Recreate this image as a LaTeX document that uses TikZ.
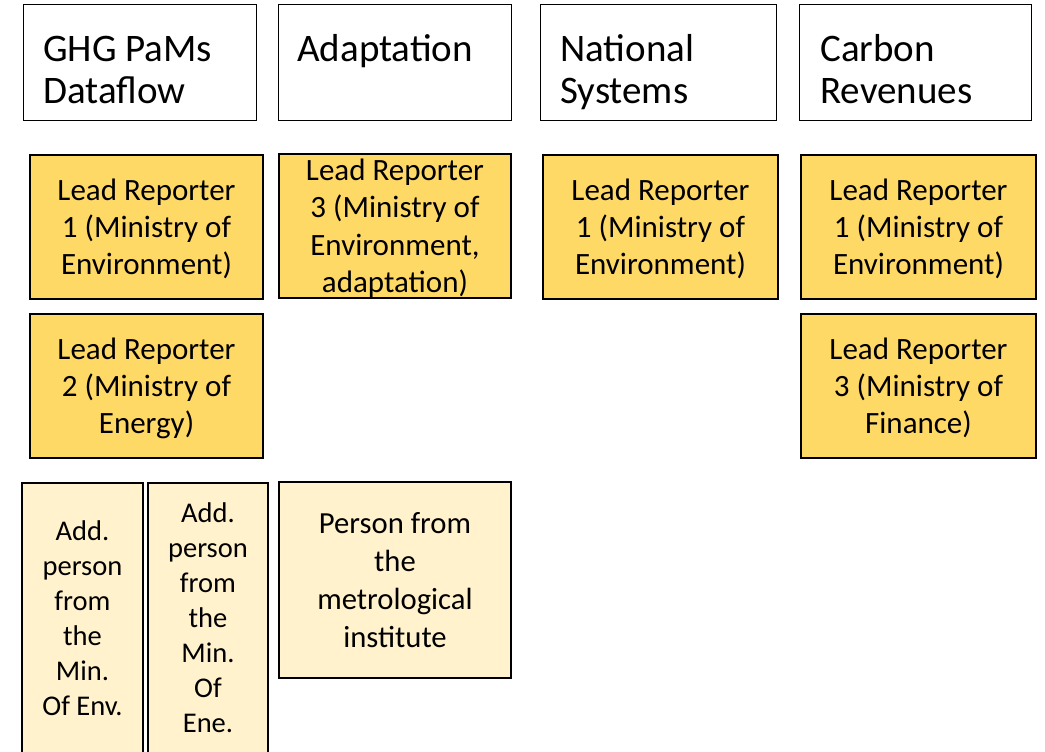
\documentclass[tikz,border=0pt]{standalone}
\usepackage{fontspec}
\setmainfont{Carlito}
\definecolor{lrgold}{HTML}{FFD966}
\definecolor{lightgold}{HTML}{FFF2CC}
\newcommand\ps{\rule[-.22\baselineskip]{0pt}{\baselineskip}}
\tikzset{
  hdrbox/.style={draw=black, line width=0.75pt, fill=white, inner sep=0pt},
  hdrtext/.style={anchor=north west, inner sep=0pt, align=left,
    font=\fontsize{29.25pt}{31.9pt}\selectfont},
  lrtext/.style={inner sep=0pt, align=center, font=\fontsize{23.25pt}{28.1pt}\selectfont},
  lrbox/.style={lrtext, draw=black, line width=1.5pt, fill=lrgold},
  addbox/.style={draw=black, line width=1.5pt, fill=lightgold, inner sep=0pt, align=center,
    font=\fontsize{21.4pt}{26.25pt}\selectfont},
  personbox/.style={addbox, font=\fontsize{23pt}{28.3pt}\selectfont}
}
\begin{document}
\begin{tikzpicture}[x=0.75pt, y=-0.75pt]
\useasboundingbox (0,0) rectangle (1045,752);
\clip (0,0) rectangle (1045,752);
% header boxes
\node[hdrbox, minimum width=233*0.75pt, minimum height=116*0.75pt] (h1) at (140,62.5) {};
\node[hdrbox, minimum width=233*0.75pt, minimum height=116*0.75pt] (h2) at (395,62.5) {};
\node[hdrbox, minimum width=236*0.75pt, minimum height=116*0.75pt] (h3) at (658.5,62.5) {};
\node[hdrbox, minimum width=232*0.75pt, minimum height=116*0.75pt] (h4) at (915.5,62.5) {};
\node[hdrtext] (t1) at (43,28) {\ps GHG PaMs\\Dataflow\ps};
\node[hdrtext] (t2) at (297,28) {\ps Adaptation\ps};
\node[hdrtext] (t3) at (560,28) {\ps National\\Systems\ps};
\node[hdrtext] (t4) at (820,28) {\ps Carbon\\Revenues\ps};
% lead reporters
\node[lrbox, minimum width=233*0.75pt, minimum height=144*0.75pt] (g1) at (146.5,227) {\ps Lead Reporter\\1 (Ministry of\\Environment)\ps};
\node[lrbox, minimum width=233*0.75pt, minimum height=144*0.75pt] (g2) at (146.5,386) {\ps Lead Reporter\\2 (Ministry of\\Energy)\ps};
\node[lrbox, minimum width=232*0.75pt, minimum height=144*0.75pt] (a1) at (395,226) {};
\node[lrtext] (a1t) at (395,226) {\ps Lead Reporter\\3 (Ministry of\\Environment,\\adaptation)\ps};
\node[lrbox, minimum width=235*0.75pt, minimum height=144*0.75pt] (n1) at (660.5,227) {\ps Lead Reporter\\1 (Ministry of\\Environment)\ps};
\node[lrbox, minimum width=235*0.75pt, minimum height=144*0.75pt] (c1) at (918.5,227) {\ps Lead Reporter\\1 (Ministry of\\Environment)\ps};
\node[lrbox, minimum width=235*0.75pt, minimum height=144*0.75pt] (c2) at (918.5,386) {\ps Lead Reporter\\3 (Ministry of\\Finance)\ps};
% additional persons
\node[addbox, minimum width=121*0.75pt, minimum height=271*0.75pt] (e1) at (82.5,618) {\ps Add.\\person\\from\\the\\Min.\\Of Env.\ps};
\node[addbox, minimum width=120*0.75pt, minimum height=271*0.75pt] (e2) at (208,618) {\ps Add.\\person\\from\\the\\Min.\\Of\\Ene.\ps};
\node[personbox, minimum width=232*0.75pt, minimum height=196*0.75pt] (p1) at (395,580) {\ps Person from\\the\\metrological\\institute\ps};
\end{tikzpicture}
\end{document}
